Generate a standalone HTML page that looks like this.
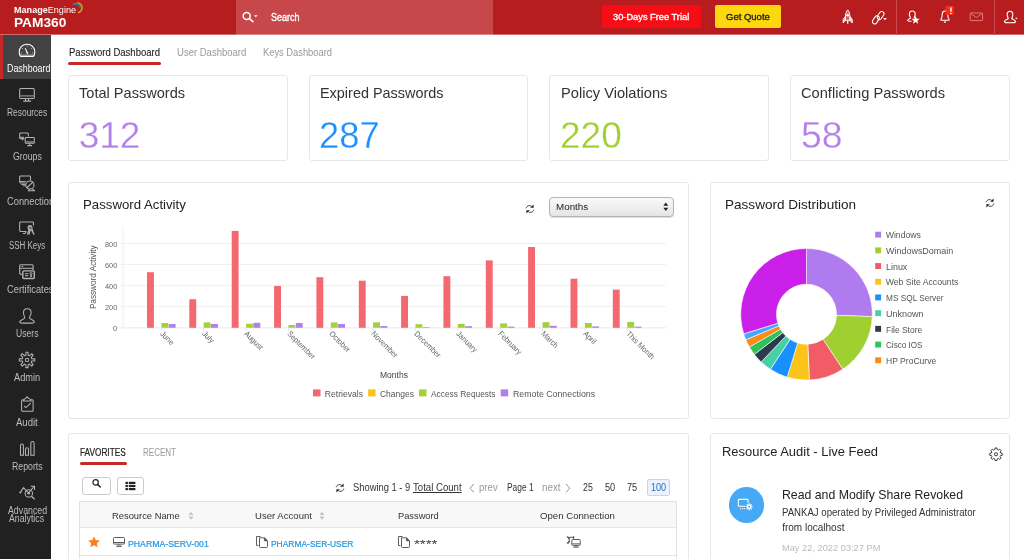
<!DOCTYPE html>
<html lang="en">
<head>
<meta charset="utf-8">
<title>PAM360 - Password Dashboard</title>
<style>
*{box-sizing:border-box;margin:0;padding:0}
html,body{width:1024px;height:559px;overflow:hidden;background:#fff;font-family:"Liberation Sans",sans-serif;color:#222;}
.abs{position:absolute}
#hdr{position:absolute;left:0;top:0;width:1024px;height:35px;background:linear-gradient(#b71c1f 34px,#d06b6d 34px)}
#srch{position:absolute;left:236px;top:0;width:257px;height:35px;background:linear-gradient(#c7474b 34px,#db888b 34px)}
#side{position:absolute;left:0;top:35px;width:51px;height:524px;background:#212121;overflow:hidden}
.nav{position:absolute;left:0;width:51px;height:44px;color:#bdbdbd;font-size:9.2px}
.nav span{position:absolute;left:7px;width:40px;top:29.500px;text-align:center;white-space:nowrap;line-height:8.500px;display:block}
.nav svg{position:absolute;left:18.500px;top:8px;width:17px;height:17px;stroke:#ccc;fill:none;stroke-width:1.150;overflow:visible}
.nav.act{background:#424242;color:#fff}
.nav.act:before{content:"";position:absolute;left:0;top:0;width:3px;height:100%;background:#c62828}
.nav.act svg{stroke:#fff}
.card{position:absolute;background:#fff;border:1px solid #e7e7e7;border-radius:3px}
.t{position:absolute;white-space:pre;line-height:1;transform-origin:0 50%}
</style>
</head>
<body>
<div id="hdr">
  <svg class="abs" style="left:71.5px;top:2px" width="12" height="13" viewBox="0 0 12 13" fill="none" stroke-linecap="round"><path d="M5.600 .8 C8.800 .9 11 3.800 9.900 7.300 C9.300 9.100 8 10.200 6.500 10.700" stroke="#f5a51c" stroke-width="1.250"/><path d="M1.300 2.300 C4.200 .4 8.200 1.200 9 5.600" stroke="#3c9a52" stroke-width="1.200"/><path d="M1.400 3.300 C3.800 1.700 7.200 2.200 8 6.400" stroke="#2e6fae" stroke-width="1.100"/><path d="M1.800 4.300 C3.800 3 6.400 3.600 7.200 7.400" stroke="#a3141a" stroke-width=".9"/></svg>
  <div id="srch">
    <svg class="abs" style="left:0px;top:8px" width="24" height="18" viewBox="0 0 24 18"><circle cx="10.700" cy="7.900" r="3.500" fill="none" stroke="#fff" stroke-width="1.500"/><path d="M13.400 10.700 L16.900 13.600" stroke="#fff" stroke-width="1.700" stroke-linecap="round"/><path d="M18 7.300 h3.600 l-1.800 2z" fill="#fff"/></svg>
  </div>
  <div class="abs" style="left:602px;top:5px;width:99px;height:22.5px;background:#f70d16;border-radius:2px"></div>
  <div class="abs" style="left:715px;top:5px;width:66px;height:22.5px;background:#fdd80e;border-radius:2px"></div>
  <div class="abs" style="left:896px;top:0;width:1px;height:35px;background:#c9494d"></div>
  <div class="abs" style="left:993.500px;top:0;width:1px;height:35px;background:#c9494d"></div>
  <!-- rocket -->
  <svg class="abs" style="left:841px;top:9px" width="13" height="16" viewBox="0 0 13 16" fill="none" stroke="#fff" stroke-width="1"><path d="M6.700 .9 C4.800 3 4.200 6 4.400 11.300 h4.600 C9.200 6 8.600 3 6.700 .9z" fill="#fff" fill-opacity=".3"/><path d="M4.300 7.600 L2.100 10.400 V14 L4.500 11.600z" fill="#fff" fill-opacity=".75" stroke-width=".8"/><path d="M9.100 7.600 L11.300 10.400 V14 L8.900 11.600z" fill="#fff" fill-opacity=".75" stroke-width=".8"/><circle cx="6.700" cy="6.200" r="1.300" fill="#fff" stroke="none"/><path d="M6.700 12 v2.800" stroke-width="1.300"/></svg>
  <!-- link -->
  <svg class="abs" style="left:871px;top:9px" width="17" height="17" viewBox="0 0 17 17" fill="none" stroke="#fff" stroke-width="1.050"><g transform="rotate(33 7.200 8.700)"><rect x="5.700" y="1.200" width="4.600" height="8.800" rx="2.300"/><rect x="4.100" y="7.400" width="4.600" height="8.800" rx="2.300"/></g><path d="M12.100 9.100 h3.700 l-1.850 2.100z" fill="#fff" stroke="none"/></svg>
  <!-- user star -->
  <svg class="abs" style="left:905px;top:9px" width="18" height="17" viewBox="0 0 18 17" fill="none" stroke="#fff" stroke-width="1.1"><path d="M7.200 2 C9.400 2 10.400 3.600 10.200 5.600 C10 7.400 9.200 8.200 9 9"/><path d="M7.200 2 C5 2 4.200 3.600 4.400 5.600 C4.600 7.400 5.400 8.200 5.400 9.200 C4.600 10 2.800 10.200 2.600 11.400 C2.600 12.200 3.800 12.200 6.500 12.200"/><path d="M10.600 6.800 L11.700 9.700 L14.800 9.800 L12.400 11.700 L13.200 14.700 L10.600 13 L8 14.700 L8.800 11.700 L6.400 9.800 L9.500 9.700z" fill="#fff" stroke="none"/></svg>
  <!-- bell -->
  <svg class="abs" style="left:938px;top:5px" width="18" height="19" viewBox="0 0 18 19" fill="none" stroke="#fff" stroke-width="1.1"><path d="M3 15.200 h8 v-1.200 C9.600 13.200 10 11 9.800 9 C9.600 7 8.400 6 7 6 C5.600 6 4.400 7 4.200 9 C4 11 4.400 13.200 3 14 z"/><path d="M6 16.600 L7 17.400 L8 16.600"/><rect x="7.500" y="1" width="8.300" height="9" fill="#f2301f" stroke="none"/><path d="M13 2.600 v4.200 M13 8 v1" stroke-width="1.500"/></svg>
  <!-- mail -->
  <svg class="abs" style="left:969px;top:12px" width="15" height="10" viewBox="0 0 15 10" fill="none" stroke="#dd7a7c" stroke-width="1"><rect x="1.200" y="1" width="12.400" height="7.600" rx=".6"/><path d="M1.600 1.400 L7.400 5.600 L13.200 1.400"/></svg>
  <!-- user -->
  <svg class="abs" style="left:1002px;top:9px" width="18" height="16" viewBox="0 0 18 16" fill="none" stroke="#fff" stroke-width="1.100"><path d="M8 2.200 C10.200 2.200 11 4 10.800 6 C10.600 7.800 9.800 8.600 9.800 9.600 C10.600 10.600 13.400 10.800 13.600 12.600 C13.600 13.800 12.800 13.800 8 13.800 C3.200 13.800 2.400 13.800 2.400 12.600 C2.600 10.800 5.400 10.600 6.200 9.600 C6.200 8.600 5.400 7.800 5.200 6 C5 4 5.800 2.200 8 2.200z"/><path d="M13 8.800 h2.800 l-1.400 1.500z" fill="#fff" stroke="none"/></svg>
</div>
<div id="side">
<div class="nav act" style="top:0.0px;height:44px"></div>
<div class="nav" style="top:44.2px;height:44px"></div>
<div class="nav" style="top:88.4px;height:44px"></div>
<div class="nav" style="top:132.6px;height:44px"></div>
<div class="nav" style="top:176.8px;height:44px"></div>
<div class="nav" style="top:221.0px;height:44px"></div>
<div class="nav" style="top:265.2px;height:44px"></div>
<div class="nav" style="top:309.4px;height:44px"></div>
<div class="nav" style="top:353.6px;height:44px"></div>
<div class="nav" style="top:397.8px;height:44px"></div>
<div class="nav" style="top:442.0px;height:44px"></div>
<div class="t" style="left:6.8px;top:28.9px;font-size:10px;color:#fff;transform:scaleX(0.887);">Dashboard</div>
<div class="t" style="left:6.8px;top:73.1px;font-size:10px;color:#bdbdbd;transform:scaleX(0.841);">Resources</div>
<div class="t" style="left:12.6px;top:117.3px;font-size:10px;color:#bdbdbd;transform:scaleX(0.881);">Groups</div>
<div class="t" style="left:6.8px;top:161.5px;font-size:10px;color:#bdbdbd;transform:scaleX(0.930);">Connections</div>
<div class="t" style="left:8.9px;top:205.7px;font-size:10px;color:#bdbdbd;transform:scaleX(0.794);">SSH Keys</div>
<div class="t" style="left:6.8px;top:249.9px;font-size:10px;color:#bdbdbd;transform:scaleX(0.930);">Certificates</div>
<div class="t" style="left:15.8px;top:294.1px;font-size:10px;color:#bdbdbd;transform:scaleX(0.861);">Users</div>
<div class="t" style="left:13.7px;top:338.3px;font-size:10px;color:#bdbdbd;transform:scaleX(0.924);">Admin</div>
<div class="t" style="left:16.1px;top:382.5px;font-size:10px;color:#bdbdbd;transform:scaleX(0.952);">Audit</div>
<div class="t" style="left:11.6px;top:426.7px;font-size:10px;color:#bdbdbd;transform:scaleX(0.874);">Reports</div>
<div class="t" style="left:7.6px;top:470.8px;font-size:10px;color:#bdbdbd;transform:scaleX(0.879);">Advanced</div>
<div class="t" style="left:9.2px;top:479.3px;font-size:10px;color:#bdbdbd;transform:scaleX(0.877);">Analytics</div>
</div>
<div id="main">
<div class="abs" style="left:68px;top:62px;width:93px;height:3px;background:#c62828;border-radius:1.5px"></div>
<div class="card" style="left:68px;top:75px;width:220px;height:86px"></div>
<div class="card" style="left:309px;top:75px;width:219px;height:86px"></div>
<div class="card" style="left:549px;top:75px;width:220px;height:86px"></div>
<div class="card" style="left:790px;top:75px;width:220px;height:86px"></div>
<div class="card" style="left:68px;top:182px;width:621px;height:237px"></div>
<div class="card" style="left:710px;top:182px;width:300px;height:237px"></div>
<div class="card" style="left:68px;top:433px;width:621px;height:140px"></div>
<div class="card" style="left:710px;top:433px;width:300px;height:140px"></div>
<svg class="abs" style="left:0;top:0" width="1024" height="559" viewBox="0 0 1024 559">
<path d="M120.5 243.5 H666" stroke="#f0f0f0" stroke-width="1"/>
<path d="M120.5 264.5 H666" stroke="#f0f0f0" stroke-width="1"/>
<path d="M120.5 285.6 H666" stroke="#f0f0f0" stroke-width="1"/>
<path d="M120.5 306.6 H666" stroke="#f0f0f0" stroke-width="1"/>
<path d="M120.5 327.9 H666" stroke="#e9e9e9" stroke-width="1"/>
<path d="M123 226 V328" stroke="#efefef" stroke-width="1"/>
<rect x="147.0" y="272.2" width="6.9" height="55.6" fill="#f4696f"/>
<rect x="161.4" y="323" width="6.9" height="4.8" fill="#a3d139"/>
<rect x="168.7" y="324" width="6.9" height="3.8" fill="#b37feb"/>
<path d="M161.4 328 v3" stroke="#e6e6e6" stroke-width="1"/>
<rect x="189.3" y="299.2" width="6.9" height="28.6" fill="#f4696f"/>
<rect x="203.7" y="322.4" width="6.9" height="5.4" fill="#a3d139"/>
<rect x="211.0" y="324" width="6.9" height="3.8" fill="#b37feb"/>
<path d="M203.7 328 v3" stroke="#e6e6e6" stroke-width="1"/>
<rect x="231.7" y="230.9" width="6.9" height="96.9" fill="#f4696f"/>
<rect x="246.1" y="323.8" width="6.9" height="4.0" fill="#a3d139"/>
<rect x="253.4" y="322.8" width="6.9" height="5.0" fill="#b37feb"/>
<path d="M246.1 328 v3" stroke="#e6e6e6" stroke-width="1"/>
<rect x="274.1" y="286" width="6.9" height="41.8" fill="#f4696f"/>
<rect x="288.4" y="325" width="6.9" height="2.8" fill="#a3d139"/>
<rect x="295.8" y="323" width="6.9" height="4.8" fill="#b37feb"/>
<path d="M288.4 328 v3" stroke="#e6e6e6" stroke-width="1"/>
<rect x="316.4" y="277.2" width="6.9" height="50.6" fill="#f4696f"/>
<rect x="330.8" y="322.4" width="6.9" height="5.4" fill="#a3d139"/>
<rect x="338.1" y="324" width="6.9" height="3.8" fill="#b37feb"/>
<path d="M330.8 328 v3" stroke="#e6e6e6" stroke-width="1"/>
<rect x="358.8" y="280.7" width="6.9" height="47.1" fill="#f4696f"/>
<rect x="373.1" y="322.4" width="6.9" height="5.4" fill="#a3d139"/>
<rect x="380.4" y="326" width="6.9" height="1.8" fill="#b37feb"/>
<path d="M373.1 328 v3" stroke="#e6e6e6" stroke-width="1"/>
<rect x="401.1" y="295.9" width="6.9" height="31.9" fill="#f4696f"/>
<rect x="415.5" y="324.2" width="6.9" height="3.6" fill="#a3d139"/>
<rect x="422.8" y="327.2" width="6.9" height="0.6" fill="#b37feb"/>
<path d="M415.5 328 v3" stroke="#e6e6e6" stroke-width="1"/>
<rect x="443.4" y="276.2" width="6.9" height="51.6" fill="#f4696f"/>
<rect x="457.8" y="323.8" width="6.9" height="4.0" fill="#a3d139"/>
<rect x="465.1" y="326.2" width="6.9" height="1.6" fill="#b37feb"/>
<path d="M457.8 328 v3" stroke="#e6e6e6" stroke-width="1"/>
<rect x="485.8" y="260.4" width="6.9" height="67.4" fill="#f4696f"/>
<rect x="500.2" y="323.4" width="6.9" height="4.4" fill="#a3d139"/>
<rect x="507.5" y="326.6" width="6.9" height="1.2" fill="#b37feb"/>
<path d="M500.2 328 v3" stroke="#e6e6e6" stroke-width="1"/>
<rect x="528.1" y="247" width="6.9" height="80.8" fill="#f4696f"/>
<rect x="542.6" y="322.2" width="6.9" height="5.6" fill="#a3d139"/>
<rect x="549.9" y="325.8" width="6.9" height="2.0" fill="#b37feb"/>
<path d="M542.6 328 v3" stroke="#e6e6e6" stroke-width="1"/>
<rect x="570.5" y="278.7" width="6.9" height="49.1" fill="#f4696f"/>
<rect x="584.9" y="323" width="6.9" height="4.8" fill="#a3d139"/>
<rect x="592.2" y="326.4" width="6.9" height="1.4" fill="#b37feb"/>
<path d="M584.9 328 v3" stroke="#e6e6e6" stroke-width="1"/>
<rect x="612.8" y="289.6" width="6.9" height="38.2" fill="#f4696f"/>
<rect x="627.2" y="321.9" width="6.9" height="5.9" fill="#a3d139"/>
<rect x="634.5" y="326.6" width="6.9" height="1.2" fill="#b37feb"/>
<path d="M627.2 328 v3" stroke="#e6e6e6" stroke-width="1"/>
<rect x="313" y="389.4" width="7.5" height="7" fill="#f4696f"/>
<rect x="368.1" y="389.4" width="7.5" height="7" fill="#fcc419"/>
<rect x="419" y="389.4" width="7.5" height="7" fill="#a3d139"/>
<rect x="500.7" y="389.4" width="7.5" height="7" fill="#b37feb"/>
<path d="M806.50 248.50 A65.8 65.8 0 0 1 872.26 316.60 L836.48 315.35 A30 30 0 0 0 806.50 284.30z" fill="#b07bef" stroke="#fff" stroke-width=".6"/>
<path d="M872.26 316.60 A65.8 65.8 0 0 1 842.72 369.23 L823.01 339.35 A30 30 0 0 0 836.48 315.35z" fill="#a0d030" stroke="#fff" stroke-width=".6"/>
<path d="M842.72 369.23 A65.8 65.8 0 0 1 809.37 380.04 L807.81 344.27 A30 30 0 0 0 823.01 339.35z" fill="#f25c66" stroke="#fff" stroke-width=".6"/>
<path d="M809.37 380.04 A65.8 65.8 0 0 1 787.15 377.19 L797.68 342.97 A30 30 0 0 0 807.81 344.27z" fill="#fcc419" stroke="#fff" stroke-width=".6"/>
<path d="M787.15 377.19 A65.8 65.8 0 0 1 770.37 369.30 L790.03 339.37 A30 30 0 0 0 797.68 342.97z" fill="#1890ff" stroke="#fff" stroke-width=".6"/>
<path d="M770.37 369.30 A65.8 65.8 0 0 1 761.12 361.95 L785.81 336.03 A30 30 0 0 0 790.03 339.37z" fill="#45d0a8" stroke="#fff" stroke-width=".6"/>
<path d="M761.12 361.95 A65.8 65.8 0 0 1 754.37 354.45 L782.73 332.60 A30 30 0 0 0 785.81 336.03z" fill="#2b3a4f" stroke="#fff" stroke-width=".6"/>
<path d="M754.37 354.45 A65.8 65.8 0 0 1 749.40 347.00 L780.47 329.21 A30 30 0 0 0 782.73 332.60z" fill="#2fc25b" stroke="#fff" stroke-width=".6"/>
<path d="M749.40 347.00 A65.8 65.8 0 0 1 745.80 339.69 L778.82 325.88 A30 30 0 0 0 780.47 329.21z" fill="#fa8c16" stroke="#fff" stroke-width=".6"/>
<path d="M745.80 339.69 A65.8 65.8 0 0 1 743.68 333.87 L777.86 323.22 A30 30 0 0 0 778.82 325.88z" fill="#40a9ff" stroke="#fff" stroke-width=".6"/>
<path d="M743.68 333.87 A65.8 65.8 0 0 1 806.50 248.50 L806.50 284.30 A30 30 0 0 0 777.86 323.22z" fill="#c91fe8" stroke="#fff" stroke-width=".6"/>
<rect x="875.2" y="231.7" width="5.9" height="5.9" fill="#b07bef"/>
<rect x="875.2" y="247.4" width="5.9" height="5.9" fill="#a0d030"/>
<rect x="875.2" y="263.1" width="5.9" height="5.9" fill="#f25c66"/>
<rect x="875.2" y="278.8" width="5.9" height="5.9" fill="#fcc419"/>
<rect x="875.2" y="294.5" width="5.9" height="5.9" fill="#1890ff"/>
<rect x="875.2" y="310.2" width="5.9" height="5.9" fill="#45d0a8"/>
<rect x="875.2" y="325.9" width="5.9" height="5.9" fill="#2b3a4f"/>
<rect x="875.2" y="341.6" width="5.9" height="5.9" fill="#2fc25b"/>
<rect x="875.2" y="357.3" width="5.9" height="5.9" fill="#fa8c16"/>
</svg>
<div class="abs" style="left:549px;top:197px;width:124.5px;height:19.5px;border:1px solid #b4b4b4;border-radius:4px;background:linear-gradient(#fafafa,#e4e4e4);box-shadow:0 1px 0 #ddd"></div>
<svg class="abs" style="left:662px;top:201px" width="8" height="12" viewBox="0 0 8 12"><path d="M1.3 4.8 L3.8 1.600 L6.300 4.800z M1.300 6.800 L3.800 10 L6.300 6.800z" fill="#222"/></svg>
<svg class="abs" style="left:525px;top:203.5px" width="10" height="10" viewBox="0 0 10 10" fill="none" stroke="#333" stroke-width=".95"><path d="M1.200 4.200 C1.800 1.700 4.600 .9 6.600 2.300"/><path d="M8.800 5.600 C8.200 8.200 5.400 9.100 3.400 7.700"/><path d="M8.600 .4 V3.800 H5.200z M1.400 9.600 V6.200 H4.800z" fill="#222" stroke="none"/></svg>
<svg class="abs" style="left:984.8px;top:198px" width="10" height="10" viewBox="0 0 10 10" fill="none" stroke="#333" stroke-width=".95"><path d="M1.200 4.200 C1.800 1.700 4.600 .9 6.600 2.300"/><path d="M8.800 5.600 C8.200 8.200 5.400 9.100 3.400 7.700"/><path d="M8.600 .4 V3.800 H5.200z M1.400 9.600 V6.200 H4.800z" fill="#222" stroke="none"/></svg>
<svg class="abs" style="left:334.7px;top:483.3px" width="10" height="10" viewBox="0 0 10 10" fill="none" stroke="#333" stroke-width=".95"><path d="M1.200 4.200 C1.800 1.700 4.600 .9 6.600 2.300"/><path d="M8.800 5.600 C8.200 8.200 5.400 9.100 3.400 7.700"/><path d="M8.600 .4 V3.800 H5.200z M1.400 9.600 V6.200 H4.800z" fill="#222" stroke="none"/></svg>
<div class="abs" style="left:80px;top:461.8px;width:46.5px;height:3px;background:#c62828;border-radius:1.5px"></div>
<div class="abs" style="left:82px;top:477px;width:28.5px;height:17.5px;border:1px solid #ccc;border-radius:3px;background:#fff"></div>
<svg class="abs" style="left:91px;top:478.2px" width="11" height="11" viewBox="0 0 11 11"><circle cx="4.600" cy="4.400" r="2.700" fill="none" stroke="#222" stroke-width="1.200"/><path d="M6.700 6.500 L9.200 9" stroke="#222" stroke-width="1.500" stroke-linecap="round"/></svg>
<div class="abs" style="left:116.5px;top:477px;width:27.5px;height:17.5px;border:1px solid #ccc;border-radius:3px;background:#fff"></div>
<svg class="abs" style="left:124.5px;top:481.2px" width="11" height="10" viewBox="0 0 11 10" fill="#222"><rect x="0.500" y="0.800" width="2.400" height="2.200"/><rect x="3.800" y="0.800" width="6.600" height="2.200"/><rect x="0.500" y="3.900" width="2.400" height="2.200"/><rect x="3.800" y="3.900" width="6.600" height="2.200"/><rect x="0.500" y="7" width="2.400" height="2.200"/><rect x="3.800" y="7" width="6.600" height="2.200"/></svg>
<svg class="abs" style="left:468px;top:482px" width="8" height="12" viewBox="0 0 8 12" fill="none" stroke="#777" stroke-width=".8"><path d="M5.800 2 L2 6.200 L5.800 10.400"/></svg>
<svg class="abs" style="left:563.5px;top:482px" width="8" height="12" viewBox="0 0 8 12" fill="none" stroke="#777" stroke-width=".8"><path d="M2 2 L5.800 6.200 L2 10.400"/></svg>
<div class="abs" style="left:647px;top:479px;width:22.5px;height:17px;border:1px solid #c9d6ea;border-radius:2px;background:#ecf2fb"></div>
<div class="abs" style="left:79px;top:501px;width:597.5px;height:70px;border:1px solid #e2e2e2;background:#fff"></div>
<div class="abs" style="left:80px;top:502px;width:595.5px;height:26px;background:#f8f8f8;border-bottom:1px solid #e6e6e6"></div>
<div class="abs" style="left:80px;top:555px;width:595.5px;height:1px;background:#e6e6e6"></div>
<svg class="abs" style="left:187.6px;top:510.500px" width="6" height="10" viewBox="0 0 6 10" fill="#c4c4c4"><path d="M.4 4 L3 .8 L5.600 4z M.4 5.600 L3 8.800 L5.600 5.600z"/></svg>
<svg class="abs" style="left:319.3px;top:510.500px" width="6" height="10" viewBox="0 0 6 10" fill="#c4c4c4"><path d="M.4 4 L3 .8 L5.600 4z M.4 5.600 L3 8.800 L5.600 5.600z"/></svg>
<svg class="abs" style="left:87.800px;top:536.200px" width="12" height="12" viewBox="0 0 12 12"><path d="M6 .4 L7.750 4.100 L11.800 4.550 L8.800 7.300 L9.650 11.300 L6 9.250 L2.350 11.300 L3.200 7.300 L.2 4.550 L4.250 4.100z" fill="#fd7e1e"/></svg>
<svg class="abs" style="left:112px;top:536px" width="14" height="12" viewBox="0 0 14 12" fill="none" stroke="#4a4a4a" stroke-width=".9"><rect x="1.500" y="1.500" width="11" height="6.600" rx="1"/><path d="M1.500 6.500 h11 M6.200 8.300 L5.800 10.100 M7.800 8.300 L8.200 10.100 M4.300 10.400 h5.400"/></svg>
<svg class="abs" style="left:255px;top:535px" width="14" height="14" viewBox="0 0 14 14" fill="none" stroke="#555" stroke-width=".95"><path d="M3.400 10.500 H1.500 V1.500 H5.600"/><path d="M4.500 2.800 H9.400 L12.500 5.900 V11.600 a.9 .9 0 0 1 -.9 .9 H5.400 a.9 .9 0 0 1 -.9 -.9z" fill="#fff"/><path d="M9.400 2.800 V5.900 H12.500z" fill="#444" stroke-width=".6"/></svg>
<svg class="abs" style="left:397px;top:535px" width="14" height="14" viewBox="0 0 14 14" fill="none" stroke="#555" stroke-width=".95"><path d="M3.400 10.500 H1.500 V1.500 H5.600"/><path d="M4.500 2.800 H9.400 L12.500 5.900 V11.600 a.9 .9 0 0 1 -.9 .9 H5.400 a.9 .9 0 0 1 -.9 -.9z" fill="#fff"/><path d="M9.400 2.800 V5.900 H12.500z" fill="#444" stroke-width=".6"/></svg>
<svg class="abs" style="left:566px;top:535px" width="16" height="14" viewBox="0 0 16 14" fill="none" stroke="#444" stroke-width=".9"><path d="M1.200 2.300 H8.300 M7.600 1.200 V3.800 M3.200 2.500 V8"/><path d="M1 1.400 L3.300 4.300 M3.400 5.600 L1.300 8.400 M1.200 8.200 h1.600" stroke-width="1"/><rect x="5.800" y="4.500" width="8.400" height="5.800" rx=".9" fill="#fff"/><path d="M6 8.800 h8" stroke="#777" stroke-width="1.100"/><path d="M9 10.500 v1.300 M11 10.500 v1.300 M7.400 12.100 h5.200"/></svg>
<svg class="abs" style="left:988.500px;top:446.800px" width="14" height="14" viewBox="0 0 17 17" fill="none" stroke="#333" stroke-width="1.150"><path d="M7.300 1.200 h2.400 l.3 2 l1.300 .6 l1.700 -1.200 l1.700 1.700 l-1.200 1.700 l.6 1.300 l2 .3 v2.400 l-2 .3 l-.6 1.300 l1.200 1.700 l-1.700 1.700 l-1.700 -1.200 l-1.300 .6 l-.3 2 h-2.400 l-.3 -2 l-1.300 -.6 l-1.700 1.200 l-1.700 -1.700 l1.200 -1.700 l-.6 -1.300 l-2 -.3 v-2.400 l2 -.3 l.6 -1.300 l-1.200 -1.700 l1.700 -1.700 l1.700 1.200 l1.300 -.6z" stroke-linejoin="round"/><circle cx="8.500" cy="8.800" r="1.900"/></svg>
<div class="abs" style="left:728.500px;top:487.300px;width:35.700px;height:35.900px;border-radius:50%;background:#45a9f6"></div>
<svg class="abs" style="left:736.600px;top:497.600px" width="16" height="14" viewBox="0 0 16 14" fill="none" stroke="#fff" stroke-width="1.100"><path d="M8.400 8.200 H2 a.6 .6 0 0 1 -.6 -.6 V2 a.6 .6 0 0 1 .6 -.6 H10.400 a.6 .6 0 0 1 .6 .6 V5"/><path d="M3.200 10.600 h1 M5.200 10.600 h1 M7.200 10.600 h1" stroke-width="1.300"/><circle cx="12.200" cy="8.800" r="1.700" stroke-width="1.500"/><path d="M12.200 5.300 v1.400 M12.200 10.900 v1.400 M8.700 8.800 h1.400 M14.300 8.800 h1.400 M9.700 6.300 l1 1 M13.700 10.300 l1 1 M9.700 11.300 l1 -1 M13.700 7.300 l1 -1" stroke-width="1.100"/></svg>
<svg class="abs" style="left:0;top:0" width="51" height="559" viewBox="0 0 51 559" fill="none">
<g stroke="#fff" stroke-width="1.1">
<path d="M20.6 56.5 C19.6 55.2 19.2 53.6 19.2 52 A7.8 7.8 0 0 1 34.8 52 C34.8 53.6 34.4 55.2 33.4 56.5z" stroke-linejoin="round"/>
<path d="M20.2 55.2 H33.8" stroke-width=".9" opacity=".8"/>
<path d="M25.2 48 L27 53.7 L28 53.4z" fill="#fff" stroke-width=".6"/>
<path d="M27.1 45.8 v1 M22.1 48.3 l.8 .5 M31.9 48.3 l-.8 .5 M21 52.9 h.9 M32.100 52.900 h.9" stroke-width=".8" opacity=".85"/>
</g>
<g stroke="#b4b4b4" stroke-width="1.050">
<rect x="19.700" y="88.500" width="14.600" height="9.900" rx="1"/>
<rect x="20.200" y="95.100" width="13.600" height="1.600" fill="#777" stroke="none"/>
<path d="M25.500 98.600 v2.200 M28.500 98.600 v2.200 M23.200 101.100 h7.800"/>
</g>
<g stroke="#b4b4b4" stroke-width="1.050">
<path d="M24.200 138.600 H20.600 a.9 .9 0 0 1 -.9 -.9 V133.800 a.9 .9 0 0 1 .9 -.9 H27.400 a.9 .9 0 0 1 .9 .9 V136.400"/>
<path d="M19.800 137.200 h4.200 M22.600 138.800 v1.400" />
<rect x="25.200" y="137.500" width="9.100" height="5.800" rx=".8"/>
<rect x="25.700" y="141" width="8.100" height="1.900" fill="#777" stroke="none"/>
<path d="M29.700 143.600 v1.700 M27.300 145.600 h4.800"/>
</g>
<g stroke="#b4b4b4" stroke-width="1.050">
<path d="M25.400 183 H20.600 a.9 .9 0 0 1 -.9 -.9 V176.800 a.9 .9 0 0 1 .9 -.9 H29.600 a.9 .9 0 0 1 .9 .9 V180.400"/>
<path d="M19.800 181.500 h6 M21.200 184.500 h4.200 M22.800 185.800 h2.400" stroke-width=".9"/>
<circle cx="29.900" cy="185" r="4.100"/>
<path d="M26.700 188 L33 181.900" />
<path d="M29.500 189.400 L28.300 190.800 H34.600 L32.300 188.600" stroke-linejoin="round"/>
</g>
<g stroke="#b4b4b4" stroke-width="1.050">
<path d="M26.500 231.400 H20.600 a.9 .9 0 0 1 -.9 -.9 V222.800 a.9 .9 0 0 1 .9 -.9 H32.600 a.9 .9 0 0 1 .9 .9 V225.400"/>
<path d="M26.200 232 L24.800 233.500 H23"/>
<circle cx="30" cy="227.600" r="2" fill="#888"/>
<circle cx="30.800" cy="228.200" r=".7" fill="#212121" stroke="none"/>
<path d="M29.200 229.200 L27.400 234.600 M30.200 229.600 L29 234.600 M31.200 229.400 L34.200 234.600 M31.800 228.800 L33 231.600" stroke-width="1.200"/>
</g>
<g stroke="#b4b4b4" stroke-width="1.100">
<path d="M22 274.200 H20.700 a1 1 0 0 1 -1 -1 V265.700 a1 1 0 0 1 1 -1 H32.100 a1 1 0 0 1 1 1 V270"/>
<path d="M19.800 268.300 H33 M21.600 266.500 h1.600" stroke-width="1"/>
<rect x="22.800" y="270.900" width="11.500" height="7.600" rx="1" stroke-width="1.400"/>
<path d="M25 273.700 h3.300 M25 275.700 h3.300" stroke-width="1"/>
<circle cx="31" cy="273.600" r="1.100" stroke-width=".9"/>
<rect x="30.200" y="275.200" width="1.700" height="1.800" fill="#b4b4b4" stroke="none"/>
</g>
<g stroke="#b4b4b4" stroke-width="1.050">
<path d="M27.300 308.700 C30.100 308.700 31.300 310.600 31.100 313 C30.900 315.400 29.600 316.400 29.400 318 C30.200 319.400 34 319.800 34.300 321.800 C34.400 323.100 33.600 323.100 27 323.100 C20.400 323.100 19.600 323.100 19.700 321.800 C20 319.800 23.800 319.400 24.800 318 C24.600 316.400 23.700 315.400 23.500 313 C23.300 310.600 24.500 308.700 27.300 308.700z"/>
</g>
<g stroke="#b4b4b4" stroke-width="1.050" stroke-linejoin="round">
<path d="M25.86 355.14 L25.96 352.17 L28.04 352.17 L28.14 355.14 L29.56 355.72 L31.73 353.70 L33.20 355.17 L31.18 357.34 L31.76 358.76 L34.73 358.86 L34.73 360.94 L31.76 361.04 L31.18 362.46 L33.20 364.63 L31.73 366.10 L29.56 364.08 L28.14 364.66 L28.04 367.63 L25.96 367.63 L25.86 364.66 L24.44 364.08 L22.27 366.10 L20.80 364.63 L22.82 362.46 L22.24 361.04 L19.27 360.94 L19.27 358.86 L22.24 358.76 L22.82 357.34 L20.80 355.17 L22.27 353.70 L24.44 355.72z"/>
<circle cx="27" cy="359.900" r="1.700"/>
</g>
<g stroke="#b4b4b4" stroke-width="1.050">
<path d="M23.600 399.700 H22.600 a1 1 0 0 0 -1 1 V410.300 a1 1 0 0 0 1 1 H32.100 a1 1 0 0 0 1 -1 V400.700 a1 1 0 0 0 -1 -1 H31"/>
<path d="M23.400 400.900 C23.400 398.700 25.800 399.300 27.100 396.700 C28.400 399.300 31.200 398.700 31.200 400.900z" stroke-linejoin="round"/>
<path d="M24.200 406 L25.900 407.600 L30.700 403.200" />
</g>
<g stroke="#b4b4b4" stroke-width="1.050">
<path d="M20.500 455.300 V445.600 a1.450 1.700 0 0 1 2.900 0 V455.300z"/>
<path d="M25.500 455.300 V449.400 a1.500 1.700 0 0 1 3 0 V455.300z"/>
<path d="M30.800 455.300 V443.200 a1.650 1.700 0 0 1 3.300 0 V455.300z"/>
</g>
<g stroke="#b4b4b4" stroke-width="1.050">
<path d="M20.200 492.600 L23.500 487.600 L28.400 492.800 L34.200 486.500" stroke-linejoin="round"/>
<path d="M30.800 486.300 H34.500 V490" />
<circle cx="20.300" cy="492.600" r="1" fill="#b4b4b4" stroke="none"/>
<circle cx="28.700" cy="493.200" r="1.300" fill="#b4b4b4" stroke="none"/>
<circle cx="28.800" cy="493.400" r="3.700"/>
<path d="M31.500 496.200 L34.600 499.200" stroke-width="1.200"/>
</g>
</svg>
<div class="t" style="left:14.0px;top:5.9px;font-size:9.2px;color:#fff;transform:scaleX(0.987);"><b style="font-weight:700">Manage</b>Engine</div>
<div class="t" style="left:14.4px;top:17.1px;font-size:12.8px;color:#fff;font-weight:700;transform:scaleX(1.071);">PAM360</div>
<div class="t" style="left:270.5px;top:12.6px;font-size:10px;color:#fff;transform:scaleX(0.899);-webkit-text-stroke:.35px #fff;">Search</div>
<div class="t" style="left:613.2px;top:12.0px;font-size:9.8px;color:#fff;transform:scaleX(0.946);-webkit-text-stroke:.35px #fff;">30-Days Free Trial</div>
<div class="t" style="left:725.8px;top:12.0px;font-size:9.8px;color:#222;transform:scaleX(0.969);-webkit-text-stroke:.35px #222;">Get Quote</div>
<div class="t" style="left:68.9px;top:48.2px;font-size:10px;color:#222;transform:scaleX(0.952);-webkit-text-stroke:.1px #222;">Password Dashboard</div>
<div class="t" style="left:176.6px;top:48.2px;font-size:10px;color:#999;transform:scaleX(0.952);">User Dashboard</div>
<div class="t" style="left:262.5px;top:48.2px;font-size:10px;color:#999;transform:scaleX(0.933);">Keys Dashboard</div>
<div class="t" style="left:79.3px;top:85.2px;font-size:15px;color:#333;transform:scaleX(0.971);">Total Passwords</div>
<div class="t" style="left:78.7px;top:117.3px;font-size:37px;color:#b37feb;-webkit-text-stroke:.3px #fff;">312</div>
<div class="t" style="left:320.0px;top:85.2px;font-size:15px;color:#333;transform:scaleX(0.962);">Expired Passwords</div>
<div class="t" style="left:319.4px;top:117.3px;font-size:37px;color:#1890ff;transform:scaleX(0.982);-webkit-text-stroke:.3px #fff;">287</div>
<div class="t" style="left:560.6px;top:85.2px;font-size:15px;color:#333;transform:scaleX(0.977);">Policy Violations</div>
<div class="t" style="left:560.0px;top:117.3px;font-size:37px;color:#a0d030;-webkit-text-stroke:.3px #fff;">220</div>
<div class="t" style="left:801.3px;top:85.2px;font-size:15px;color:#333;transform:scaleX(0.976);">Conflicting Passwords</div>
<div class="t" style="left:800.7px;top:117.3px;font-size:37px;color:#b37feb;transform:scaleX(1.011);-webkit-text-stroke:.3px #fff;">58</div>
<div class="t" style="left:83.2px;top:197.6px;font-size:13.4px;color:#222;transform:scaleX(0.987);">Password Activity</div>
<div class="t" style="left:725.3px;top:197.6px;font-size:13.4px;color:#222;transform:scaleX(1.012);">Password Distribution</div>
<div class="t" style="left:721.7px;top:444.9px;font-size:13.4px;color:#222;transform:scaleX(0.966);">Resource Audit - Live Feed</div>
<div class="t" style="left:555.8px;top:201.9px;font-size:9.6px;color:#222;transform:scaleX(1.023);">Months</div>
<div class="t" style="left:104.7px;top:240.9px;font-size:8px;color:#666;transform:scaleX(0.921);">800</div>
<div class="t" style="left:104.7px;top:261.9px;font-size:8px;color:#666;transform:scaleX(0.921);">600</div>
<div class="t" style="left:104.7px;top:283.0px;font-size:8px;color:#666;transform:scaleX(0.921);">400</div>
<div class="t" style="left:104.7px;top:304.0px;font-size:8px;color:#666;transform:scaleX(0.921);">200</div>
<div class="t" style="left:112.8px;top:325.0px;font-size:8px;color:#666;transform:scaleX(0.943);">0</div>
<div class="t" style="left:93.6px;top:304.5px;font-size:8.2px;color:#555;transform:rotate(-90deg);">Password Activity</div>
<div class="t" style="left:163.6px;top:330.3px;font-size:8px;color:#666;transform:rotate(45deg) scaleX(0.920);transform-origin:0 0;">June</div>
<div class="t" style="left:205.9px;top:330.3px;font-size:8px;color:#666;transform:rotate(45deg) scaleX(0.920);transform-origin:0 0;">July</div>
<div class="t" style="left:248.3px;top:330.3px;font-size:8px;color:#666;transform:rotate(45deg) scaleX(0.920);transform-origin:0 0;">August</div>
<div class="t" style="left:290.7px;top:330.3px;font-size:8px;color:#666;transform:rotate(45deg) scaleX(0.920);transform-origin:0 0;">September</div>
<div class="t" style="left:333.0px;top:330.3px;font-size:8px;color:#666;transform:rotate(45deg) scaleX(0.920);transform-origin:0 0;">October</div>
<div class="t" style="left:375.3px;top:330.3px;font-size:8px;color:#666;transform:rotate(45deg) scaleX(0.920);transform-origin:0 0;">November</div>
<div class="t" style="left:417.7px;top:330.3px;font-size:8px;color:#666;transform:rotate(45deg) scaleX(0.920);transform-origin:0 0;">December</div>
<div class="t" style="left:460.1px;top:330.3px;font-size:8px;color:#666;transform:rotate(45deg) scaleX(0.920);transform-origin:0 0;">January</div>
<div class="t" style="left:502.4px;top:330.3px;font-size:8px;color:#666;transform:rotate(45deg) scaleX(0.920);transform-origin:0 0;">February</div>
<div class="t" style="left:544.8px;top:330.3px;font-size:8px;color:#666;transform:rotate(45deg) scaleX(0.920);transform-origin:0 0;">March</div>
<div class="t" style="left:587.1px;top:330.3px;font-size:8px;color:#666;transform:rotate(45deg) scaleX(0.920);transform-origin:0 0;">April</div>
<div class="t" style="left:629.5px;top:330.3px;font-size:8px;color:#666;transform:rotate(45deg) scaleX(0.920);transform-origin:0 0;">This Month</div>
<div class="t" style="left:380.2px;top:371.0px;font-size:8.4px;color:#444;transform:scaleX(1.016);">Months</div>
<div class="t" style="left:324.8px;top:389.6px;font-size:8.6px;color:#555;">Retrievals</div>
<div class="t" style="left:379.9px;top:389.6px;font-size:8.6px;color:#555;transform:scaleX(0.985);">Changes</div>
<div class="t" style="left:430.8px;top:389.6px;font-size:8.6px;color:#555;transform:scaleX(0.971);">Access Requests</div>
<div class="t" style="left:512.5px;top:389.6px;font-size:8.6px;color:#555;transform:scaleX(1.023);">Remote Connections</div>
<div class="t" style="left:885.7px;top:231.3px;font-size:8.7px;color:#555;">Windows</div>
<div class="t" style="left:885.7px;top:247.0px;font-size:8.7px;color:#555;transform:scaleX(1.032);">WindowsDomain</div>
<div class="t" style="left:885.7px;top:262.7px;font-size:8.7px;color:#555;transform:scaleX(1.025);">Linux</div>
<div class="t" style="left:885.7px;top:278.4px;font-size:8.7px;color:#555;">Web Site Accounts</div>
<div class="t" style="left:885.7px;top:294.1px;font-size:8.7px;color:#555;transform:scaleX(0.952);">MS SQL Server</div>
<div class="t" style="left:885.7px;top:309.8px;font-size:8.7px;color:#555;transform:scaleX(1.038);">Unknown</div>
<div class="t" style="left:885.7px;top:325.5px;font-size:8.7px;color:#555;transform:scaleX(0.973);">File Store</div>
<div class="t" style="left:885.7px;top:341.2px;font-size:8.7px;color:#555;transform:scaleX(0.933);">Cisco IOS</div>
<div class="t" style="left:885.7px;top:356.9px;font-size:8.7px;color:#555;transform:scaleX(0.984);">HP ProCurve</div>
<div class="t" style="left:80.3px;top:448.4px;font-size:10px;color:#222;transform:scaleX(0.825);-webkit-text-stroke:.2px #222;">FAVORITES</div>
<div class="t" style="left:142.6px;top:448.4px;font-size:10px;color:#999;transform:scaleX(0.802);">RECENT</div>
<div class="t" style="left:352.9px;top:482.7px;font-size:10px;color:#333;transform:scaleX(0.937);">Showing 1 - 9</div>
<div class="t" style="left:413.3px;top:482.7px;font-size:10px;color:#333;transform:scaleX(0.961);text-decoration:underline;">Total Count</div>
<div class="t" style="left:478.7px;top:482.7px;font-size:10px;color:#999;transform:scaleX(0.961);">prev</div>
<div class="t" style="left:506.5px;top:482.7px;font-size:10px;color:#333;transform:scaleX(0.842);">Page 1</div>
<div class="t" style="left:541.7px;top:482.7px;font-size:10px;color:#999;transform:scaleX(0.984);">next</div>
<div class="t" style="left:583.2px;top:482.7px;font-size:10px;color:#333;transform:scaleX(0.881);">25</div>
<div class="t" style="left:605.3px;top:482.7px;font-size:10px;color:#333;transform:scaleX(0.917);">50</div>
<div class="t" style="left:627.1px;top:482.7px;font-size:10px;color:#333;transform:scaleX(0.917);">75</div>
<div class="t" style="left:650.7px;top:482.7px;font-size:10px;color:#2070c4;transform:scaleX(0.905);">100</div>
<div class="t" style="left:112.1px;top:510.9px;font-size:9.8px;color:#333;transform:scaleX(0.955);">Resource Name</div>
<div class="t" style="left:254.9px;top:510.9px;font-size:9.8px;color:#333;transform:scaleX(0.978);">User Account</div>
<div class="t" style="left:397.5px;top:510.9px;font-size:9.8px;color:#333;transform:scaleX(0.948);">Password</div>
<div class="t" style="left:539.9px;top:510.9px;font-size:9.8px;color:#333;transform:scaleX(0.982);">Open Connection</div>
<div class="t" style="left:128.0px;top:539.9px;font-size:9.3px;color:#1c96e0;transform:scaleX(0.938);-webkit-text-stroke:.2px #1c96e0;">PHARMA-SERV-001</div>
<div class="t" style="left:270.7px;top:539.9px;font-size:9.3px;color:#1c96e0;transform:scaleX(0.907);-webkit-text-stroke:.2px #1c96e0;">PHARMA-SER-USER</div>
<div class="t" style="left:413.7px;top:538.6px;font-size:11px;color:#333;transform:scaleX(1.372);">****</div>
<div class="t" style="left:782.2px;top:487.9px;font-size:13px;color:#222;transform:scaleX(0.945);">Read and Modify Share Revoked</div>
<div class="t" style="left:782.2px;top:507.8px;font-size:10px;color:#333;transform:scaleX(0.961);">PANKAJ operated by Privileged Administrator</div>
<div class="t" style="left:782.2px;top:522.6px;font-size:10px;color:#333;">from localhost</div>
<div class="t" style="left:782.2px;top:542.7px;font-size:9.6px;color:#bbb;transform:scaleX(0.966);">May 22, 2022 03:27 PM</div>
</div>
</body>
</html>
